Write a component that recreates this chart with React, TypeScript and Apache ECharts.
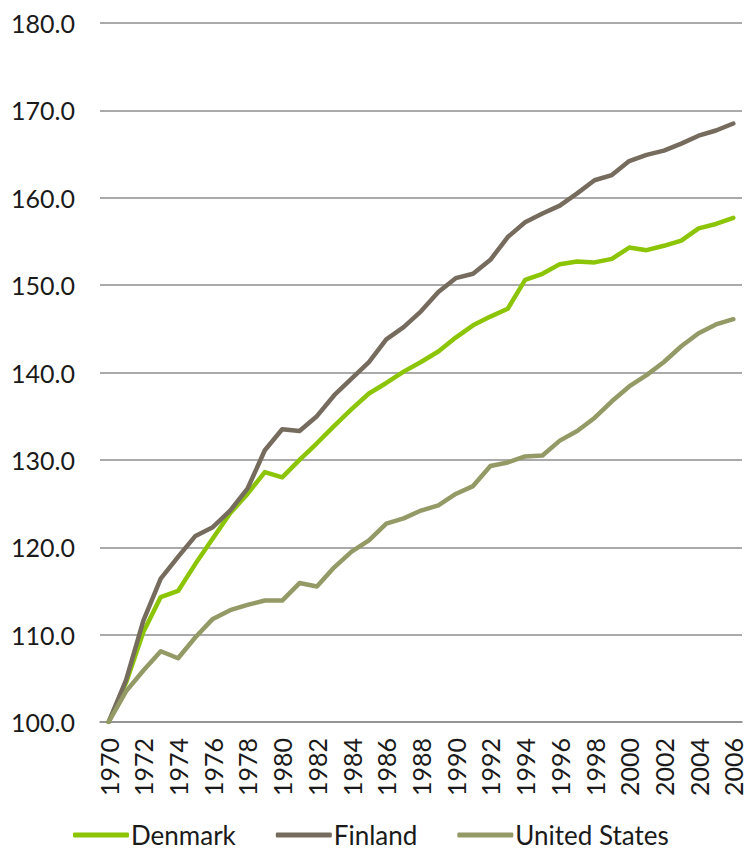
import React, { useEffect, useRef } from "react";
import * as echarts from "echarts";

const years: string[] = [];
for (let y = 1970; y <= 2006; y++) years.push(String(y));

const denmark = [100, 104.5, 110.3, 114.3, 115.0, 118.1, 121.0, 123.9, 126.1, 128.6, 128.0, 130.0, 131.9, 133.9, 135.8, 137.6, 138.8, 140.1, 141.2, 142.4, 144.0, 145.4, 146.4, 147.3, 150.6, 151.3, 152.4, 152.7, 152.6, 153.0, 154.3, 154.0, 154.5, 155.1, 156.5, 157.0, 157.7];
const finland = [100, 104.8, 111.6, 116.4, 118.9, 121.3, 122.3, 124.2, 126.7, 131.1, 133.5, 133.3, 135.0, 137.4, 139.3, 141.2, 143.8, 145.2, 147.0, 149.2, 150.8, 151.3, 152.9, 155.5, 157.2, 158.2, 159.1, 160.5, 162.0, 162.6, 164.2, 164.9, 165.4, 166.2, 167.1, 167.7, 168.5];
const unitedStates = [100, 103.5, 105.9, 108.1, 107.3, 109.7, 111.8, 112.8, 113.4, 113.9, 113.9, 115.9, 115.5, 117.7, 119.5, 120.8, 122.7, 123.3, 124.2, 124.8, 126.1, 127.0, 129.3, 129.7, 130.4, 130.5, 132.2, 133.3, 134.8, 136.7, 138.4, 139.7, 141.2, 143.0, 144.5, 145.5, 146.1];

const seriesNames = ["Denmark", "Finland", "United States"];
const colors = ["#8CC406", "#766C5E", "#949A65"];

const FONT = "Lato, 'Century Gothic', sans-serif";

export default function App() {
  const ref = useRef<HTMLDivElement>(null);
  useEffect(() => {
    if (!ref.current) return;
    const chart = echarts.init(ref.current, undefined, { renderer: "svg" });
    const data = [denmark, finland, unitedStates];
    chart.setOption({
      animation: false,
      backgroundColor: "#ffffff",
      grid: { left: 100, right: 8, top: 23, bottom: 131, containLabel: false },
      legend: {
        data: seriesNames.map((n) => ({ name: n, icon: "roundRect" })),
        left: 73,
        top: 822,
        padding: 0,
        itemWidth: 56,
        itemHeight: 5,
        itemGap: 40,
        textStyle: { fontFamily: FONT, fontSize: 26, lineHeight: 26, color: "#1a1a1a", padding: [0, 0, 0, -3] },
      },
      xAxis: {
        type: "category",
        data: years,
        boundaryGap: true,
        axisLine: { show: true, lineStyle: { color: "#8E8E8E", width: 1.5 } },
        axisTick: { show: false },
        axisLabel: {
          interval: 1,
          rotate: 90,
          margin: 16,
          fontFamily: FONT,
          fontSize: 25,
          color: "#1a1a1a",
        },
      },
      yAxis: {
        type: "value",
        min: 100,
        max: 180,
        interval: 10,
        axisLine: { show: false },
        axisTick: { show: false },
        splitLine: { lineStyle: { color: "#8E8E8E", width: 1.5 } },
        axisLabel: {
          margin: 25,
          fontFamily: FONT,
          fontSize: 25,
          color: "#1a1a1a",
          formatter: (v: number) => v.toFixed(1),
        },
      },
      series: data.map((d, i) => ({
        name: seriesNames[i],
        type: "line",
        data: d,
        showSymbol: false,
        symbol: "none",
        lineStyle: { color: colors[i], width: 4.5, join: "round", cap: "round" },
        itemStyle: { color: colors[i] },
      })),
    });
    return () => chart.dispose();
  }, []);
  return (
    <div
      ref={ref}
      style={{ position: "fixed", left: 0, top: 0, width: 750, height: 853 }}
    />
  );
}
